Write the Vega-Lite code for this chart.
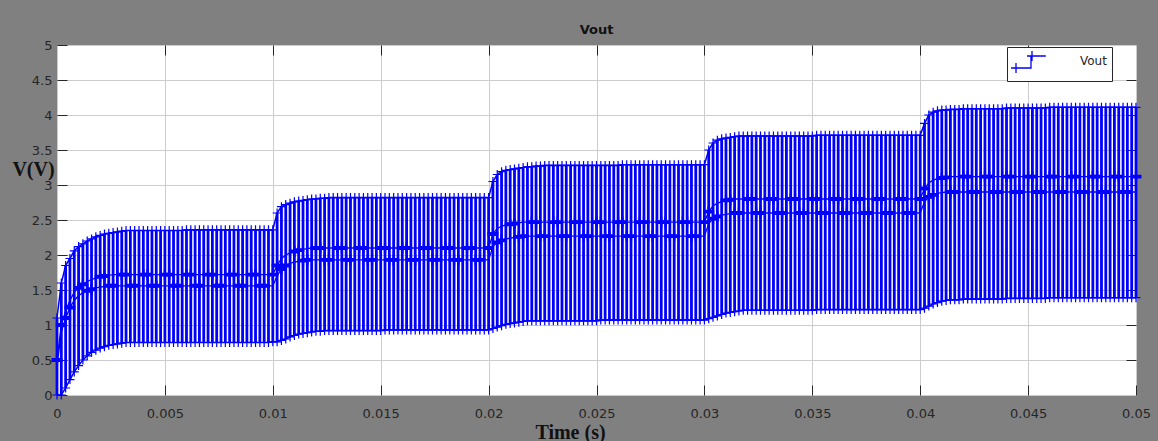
{
  "$schema": "https://vega.github.io/schema/vega-lite/v6.json",
  "width": 1079,
  "height": 350,
  "autosize": {"type": "none"},
  "padding": {"left": 57, "top": 45, "right": 22, "bottom": 46},
  "background": "#808080",
  "title": {"text": "Vout", "font": "DejaVu Sans", "fontSize": 13, "fontWeight": "bold", "color": "#111111", "offset": 2, "anchor": "middle"},
  "data": {"values": [
    {"t":0,"h":1.1,"u":0.5,"d":0.42,"l":0,"k":"u"},
    {"t":0.0002,"h":1.6,"u":1,"d":0.9,"l":0,"k":"u"},
    {"t":0.0004,"h":1.85,"u":1.2,"d":1.1,"l":0.1,"k":"d"},
    {"t":0.0006,"h":1.95,"u":1.35,"d":1.25,"l":0.22,"k":"d"},
    {"t":0.0008,"h":2.06,"u":1.47,"d":1.35,"l":0.33,"k":"n"},
    {"t":0.001,"h":2.12,"u":1.53,"d":1.42,"l":0.42,"k":"u"},
    {"t":0.0012,"h":2.16,"u":1.58,"d":1.46,"l":0.5,"k":"u"},
    {"t":0.0014,"h":2.2,"u":1.62,"d":1.49,"l":0.56,"k":"d"},
    {"t":0.0016,"h":2.23,"u":1.65,"d":1.51,"l":0.61,"k":"d"},
    {"t":0.0018,"h":2.26,"u":1.67,"d":1.53,"l":0.64,"k":"n"},
    {"t":0.002,"h":2.28,"u":1.69,"d":1.54,"l":0.67,"k":"u"},
    {"t":0.0022,"h":2.3,"u":1.7,"d":1.55,"l":0.69,"k":"u"},
    {"t":0.0024,"h":2.31,"u":1.71,"d":1.56,"l":0.71,"k":"d"},
    {"t":0.0026,"h":2.32,"u":1.72,"d":1.56,"l":0.72,"k":"d"},
    {"t":0.0028,"h":2.33,"u":1.72,"d":1.56,"l":0.73,"k":"n"},
    {"t":0.003,"h":2.34,"u":1.72,"d":1.56,"l":0.74,"k":"u"},
    {"t":0.0032,"h":2.35,"u":1.72,"d":1.56,"l":0.75,"k":"u"},
    {"t":0.0034,"h":2.35,"u":1.72,"d":1.56,"l":0.75,"k":"d"},
    {"t":0.0036,"h":2.35,"u":1.72,"d":1.56,"l":0.75,"k":"d"},
    {"t":0.0038,"h":2.35,"u":1.72,"d":1.56,"l":0.75,"k":"n"},
    {"t":0.004,"h":2.35,"u":1.72,"d":1.56,"l":0.75,"k":"u"},
    {"t":0.0042,"h":2.35,"u":1.72,"d":1.56,"l":0.75,"k":"u"},
    {"t":0.0044,"h":2.35,"u":1.72,"d":1.56,"l":0.75,"k":"d"},
    {"t":0.0046,"h":2.35,"u":1.72,"d":1.56,"l":0.75,"k":"d"},
    {"t":0.0048,"h":2.35,"u":1.72,"d":1.56,"l":0.75,"k":"n"},
    {"t":0.005,"h":2.35,"u":1.72,"d":1.56,"l":0.75,"k":"u"},
    {"t":0.0052,"h":2.35,"u":1.72,"d":1.56,"l":0.75,"k":"u"},
    {"t":0.0054,"h":2.35,"u":1.72,"d":1.56,"l":0.75,"k":"d"},
    {"t":0.0056,"h":2.35,"u":1.72,"d":1.56,"l":0.75,"k":"d"},
    {"t":0.0058,"h":2.35,"u":1.72,"d":1.56,"l":0.75,"k":"n"},
    {"t":0.006,"h":2.36,"u":1.72,"d":1.56,"l":0.75,"k":"u"},
    {"t":0.0062,"h":2.36,"u":1.72,"d":1.56,"l":0.75,"k":"u"},
    {"t":0.0064,"h":2.36,"u":1.72,"d":1.56,"l":0.75,"k":"d"},
    {"t":0.0066,"h":2.36,"u":1.72,"d":1.56,"l":0.75,"k":"d"},
    {"t":0.0068,"h":2.36,"u":1.72,"d":1.56,"l":0.75,"k":"n"},
    {"t":0.007,"h":2.36,"u":1.72,"d":1.56,"l":0.75,"k":"u"},
    {"t":0.0072,"h":2.36,"u":1.72,"d":1.56,"l":0.75,"k":"u"},
    {"t":0.0074,"h":2.36,"u":1.72,"d":1.56,"l":0.75,"k":"d"},
    {"t":0.0076,"h":2.36,"u":1.72,"d":1.56,"l":0.75,"k":"d"},
    {"t":0.0078,"h":2.36,"u":1.72,"d":1.56,"l":0.75,"k":"n"},
    {"t":0.008,"h":2.36,"u":1.72,"d":1.56,"l":0.75,"k":"u"},
    {"t":0.0082,"h":2.36,"u":1.72,"d":1.56,"l":0.75,"k":"u"},
    {"t":0.0084,"h":2.36,"u":1.72,"d":1.56,"l":0.75,"k":"d"},
    {"t":0.0086,"h":2.36,"u":1.72,"d":1.56,"l":0.75,"k":"d"},
    {"t":0.0088,"h":2.36,"u":1.72,"d":1.56,"l":0.75,"k":"n"},
    {"t":0.009,"h":2.36,"u":1.72,"d":1.56,"l":0.75,"k":"u"},
    {"t":0.0092,"h":2.36,"u":1.72,"d":1.56,"l":0.75,"k":"u"},
    {"t":0.0094,"h":2.36,"u":1.72,"d":1.56,"l":0.75,"k":"d"},
    {"t":0.0096,"h":2.36,"u":1.72,"d":1.56,"l":0.75,"k":"d"},
    {"t":0.0098,"h":2.36,"u":1.72,"d":1.56,"l":0.75,"k":"n"},
    {"t":0.01,"h":2.36,"u":1.72,"d":1.56,"l":0.76,"k":"u"},
    {"t":0.0102,"h":2.6,"u":1.85,"d":1.7,"l":0.76,"k":"u"},
    {"t":0.0104,"h":2.69,"u":1.95,"d":1.8,"l":0.78,"k":"d"},
    {"t":0.0106,"h":2.72,"u":2,"d":1.85,"l":0.8,"k":"d"},
    {"t":0.0108,"h":2.74,"u":2.03,"d":1.88,"l":0.83,"k":"n"},
    {"t":0.011,"h":2.76,"u":2.05,"d":1.9,"l":0.85,"k":"u"},
    {"t":0.0112,"h":2.77,"u":2.07,"d":1.91,"l":0.87,"k":"u"},
    {"t":0.0114,"h":2.78,"u":2.08,"d":1.92,"l":0.88,"k":"d"},
    {"t":0.0116,"h":2.79,"u":2.09,"d":1.93,"l":0.89,"k":"d"},
    {"t":0.0118,"h":2.8,"u":2.1,"d":1.93,"l":0.9,"k":"n"},
    {"t":0.012,"h":2.8,"u":2.1,"d":1.93,"l":0.91,"k":"u"},
    {"t":0.0122,"h":2.81,"u":2.1,"d":1.93,"l":0.91,"k":"u"},
    {"t":0.0124,"h":2.81,"u":2.1,"d":1.93,"l":0.92,"k":"d"},
    {"t":0.0126,"h":2.82,"u":2.1,"d":1.93,"l":0.92,"k":"d"},
    {"t":0.0128,"h":2.82,"u":2.1,"d":1.93,"l":0.92,"k":"n"},
    {"t":0.013,"h":2.82,"u":2.1,"d":1.93,"l":0.92,"k":"u"},
    {"t":0.0132,"h":2.82,"u":2.1,"d":1.93,"l":0.92,"k":"u"},
    {"t":0.0134,"h":2.82,"u":2.1,"d":1.93,"l":0.92,"k":"d"},
    {"t":0.0136,"h":2.82,"u":2.1,"d":1.93,"l":0.92,"k":"d"},
    {"t":0.0138,"h":2.82,"u":2.1,"d":1.93,"l":0.92,"k":"n"},
    {"t":0.014,"h":2.82,"u":2.1,"d":1.93,"l":0.92,"k":"u"},
    {"t":0.0142,"h":2.82,"u":2.1,"d":1.93,"l":0.92,"k":"u"},
    {"t":0.0144,"h":2.82,"u":2.1,"d":1.93,"l":0.92,"k":"d"},
    {"t":0.0146,"h":2.82,"u":2.1,"d":1.93,"l":0.92,"k":"d"},
    {"t":0.0148,"h":2.82,"u":2.1,"d":1.93,"l":0.92,"k":"n"},
    {"t":0.015,"h":2.82,"u":2.1,"d":1.93,"l":0.92,"k":"u"},
    {"t":0.0152,"h":2.82,"u":2.1,"d":1.93,"l":0.93,"k":"u"},
    {"t":0.0154,"h":2.82,"u":2.1,"d":1.93,"l":0.93,"k":"d"},
    {"t":0.0156,"h":2.82,"u":2.1,"d":1.93,"l":0.93,"k":"d"},
    {"t":0.0158,"h":2.82,"u":2.1,"d":1.93,"l":0.93,"k":"n"},
    {"t":0.016,"h":2.82,"u":2.1,"d":1.93,"l":0.93,"k":"u"},
    {"t":0.0162,"h":2.82,"u":2.1,"d":1.93,"l":0.93,"k":"u"},
    {"t":0.0164,"h":2.82,"u":2.1,"d":1.93,"l":0.93,"k":"d"},
    {"t":0.0166,"h":2.82,"u":2.1,"d":1.93,"l":0.93,"k":"d"},
    {"t":0.0168,"h":2.82,"u":2.1,"d":1.93,"l":0.93,"k":"n"},
    {"t":0.017,"h":2.82,"u":2.1,"d":1.93,"l":0.93,"k":"u"},
    {"t":0.0172,"h":2.82,"u":2.1,"d":1.93,"l":0.93,"k":"u"},
    {"t":0.0174,"h":2.82,"u":2.1,"d":1.93,"l":0.93,"k":"d"},
    {"t":0.0176,"h":2.82,"u":2.1,"d":1.93,"l":0.93,"k":"d"},
    {"t":0.0178,"h":2.82,"u":2.1,"d":1.93,"l":0.93,"k":"n"},
    {"t":0.018,"h":2.82,"u":2.1,"d":1.93,"l":0.93,"k":"u"},
    {"t":0.0182,"h":2.82,"u":2.1,"d":1.93,"l":0.93,"k":"u"},
    {"t":0.0184,"h":2.82,"u":2.1,"d":1.93,"l":0.93,"k":"d"},
    {"t":0.0186,"h":2.82,"u":2.1,"d":1.93,"l":0.93,"k":"d"},
    {"t":0.0188,"h":2.82,"u":2.1,"d":1.93,"l":0.93,"k":"n"},
    {"t":0.019,"h":2.82,"u":2.1,"d":1.93,"l":0.93,"k":"u"},
    {"t":0.0192,"h":2.82,"u":2.1,"d":1.93,"l":0.93,"k":"u"},
    {"t":0.0194,"h":2.82,"u":2.1,"d":1.93,"l":0.93,"k":"d"},
    {"t":0.0196,"h":2.82,"u":2.1,"d":1.93,"l":0.93,"k":"d"},
    {"t":0.0198,"h":2.82,"u":2.1,"d":1.93,"l":0.93,"k":"n"},
    {"t":0.02,"h":2.82,"u":2.1,"d":1.93,"l":0.93,"k":"u"},
    {"t":0.0202,"h":3.05,"u":2.3,"d":2.12,"l":0.95,"k":"u"},
    {"t":0.0204,"h":3.15,"u":2.38,"d":2.18,"l":0.97,"k":"d"},
    {"t":0.0206,"h":3.19,"u":2.41,"d":2.21,"l":0.99,"k":"d"},
    {"t":0.0208,"h":3.21,"u":2.43,"d":2.23,"l":1.01,"k":"n"},
    {"t":0.021,"h":3.22,"u":2.44,"d":2.24,"l":1.02,"k":"u"},
    {"t":0.0212,"h":3.23,"u":2.45,"d":2.25,"l":1.03,"k":"u"},
    {"t":0.0214,"h":3.24,"u":2.46,"d":2.26,"l":1.04,"k":"d"},
    {"t":0.0216,"h":3.25,"u":2.47,"d":2.27,"l":1.05,"k":"d"},
    {"t":0.0218,"h":3.26,"u":2.47,"d":2.27,"l":1.06,"k":"n"},
    {"t":0.022,"h":3.26,"u":2.47,"d":2.27,"l":1.06,"k":"u"},
    {"t":0.0222,"h":3.27,"u":2.47,"d":2.27,"l":1.06,"k":"u"},
    {"t":0.0224,"h":3.27,"u":2.47,"d":2.27,"l":1.06,"k":"d"},
    {"t":0.0226,"h":3.28,"u":2.47,"d":2.27,"l":1.06,"k":"d"},
    {"t":0.0228,"h":3.28,"u":2.47,"d":2.27,"l":1.06,"k":"n"},
    {"t":0.023,"h":3.28,"u":2.47,"d":2.27,"l":1.06,"k":"u"},
    {"t":0.0232,"h":3.28,"u":2.47,"d":2.27,"l":1.06,"k":"u"},
    {"t":0.0234,"h":3.28,"u":2.47,"d":2.27,"l":1.06,"k":"d"},
    {"t":0.0236,"h":3.28,"u":2.47,"d":2.27,"l":1.06,"k":"d"},
    {"t":0.0238,"h":3.28,"u":2.47,"d":2.27,"l":1.06,"k":"n"},
    {"t":0.024,"h":3.28,"u":2.47,"d":2.27,"l":1.06,"k":"u"},
    {"t":0.0242,"h":3.28,"u":2.47,"d":2.27,"l":1.06,"k":"u"},
    {"t":0.0244,"h":3.28,"u":2.47,"d":2.27,"l":1.06,"k":"d"},
    {"t":0.0246,"h":3.28,"u":2.47,"d":2.27,"l":1.06,"k":"d"},
    {"t":0.0248,"h":3.28,"u":2.47,"d":2.27,"l":1.06,"k":"n"},
    {"t":0.025,"h":3.28,"u":2.47,"d":2.27,"l":1.06,"k":"u"},
    {"t":0.0252,"h":3.28,"u":2.47,"d":2.27,"l":1.07,"k":"u"},
    {"t":0.0254,"h":3.28,"u":2.47,"d":2.27,"l":1.07,"k":"d"},
    {"t":0.0256,"h":3.28,"u":2.47,"d":2.27,"l":1.07,"k":"d"},
    {"t":0.0258,"h":3.28,"u":2.47,"d":2.27,"l":1.07,"k":"n"},
    {"t":0.026,"h":3.28,"u":2.47,"d":2.27,"l":1.07,"k":"u"},
    {"t":0.0262,"h":3.29,"u":2.47,"d":2.27,"l":1.07,"k":"u"},
    {"t":0.0264,"h":3.29,"u":2.47,"d":2.27,"l":1.07,"k":"d"},
    {"t":0.0266,"h":3.29,"u":2.47,"d":2.27,"l":1.07,"k":"d"},
    {"t":0.0268,"h":3.29,"u":2.47,"d":2.27,"l":1.07,"k":"n"},
    {"t":0.027,"h":3.29,"u":2.47,"d":2.27,"l":1.07,"k":"u"},
    {"t":0.0272,"h":3.29,"u":2.47,"d":2.27,"l":1.07,"k":"u"},
    {"t":0.0274,"h":3.29,"u":2.47,"d":2.27,"l":1.07,"k":"d"},
    {"t":0.0276,"h":3.29,"u":2.47,"d":2.27,"l":1.07,"k":"d"},
    {"t":0.0278,"h":3.29,"u":2.47,"d":2.27,"l":1.07,"k":"n"},
    {"t":0.028,"h":3.29,"u":2.47,"d":2.27,"l":1.07,"k":"u"},
    {"t":0.0282,"h":3.29,"u":2.47,"d":2.27,"l":1.07,"k":"u"},
    {"t":0.0284,"h":3.29,"u":2.47,"d":2.27,"l":1.07,"k":"d"},
    {"t":0.0286,"h":3.29,"u":2.47,"d":2.27,"l":1.07,"k":"d"},
    {"t":0.0288,"h":3.29,"u":2.47,"d":2.27,"l":1.07,"k":"n"},
    {"t":0.029,"h":3.29,"u":2.47,"d":2.27,"l":1.07,"k":"u"},
    {"t":0.0292,"h":3.29,"u":2.47,"d":2.27,"l":1.07,"k":"u"},
    {"t":0.0294,"h":3.29,"u":2.47,"d":2.27,"l":1.07,"k":"d"},
    {"t":0.0296,"h":3.29,"u":2.47,"d":2.27,"l":1.07,"k":"d"},
    {"t":0.0298,"h":3.29,"u":2.47,"d":2.27,"l":1.07,"k":"n"},
    {"t":0.03,"h":3.29,"u":2.47,"d":2.27,"l":1.07,"k":"u"},
    {"t":0.0302,"h":3.5,"u":2.62,"d":2.45,"l":1.09,"k":"u"},
    {"t":0.0304,"h":3.6,"u":2.7,"d":2.52,"l":1.11,"k":"d"},
    {"t":0.0306,"h":3.64,"u":2.74,"d":2.55,"l":1.13,"k":"d"},
    {"t":0.0308,"h":3.66,"u":2.76,"d":2.57,"l":1.15,"k":"n"},
    {"t":0.031,"h":3.67,"u":2.78,"d":2.58,"l":1.17,"k":"u"},
    {"t":0.0312,"h":3.68,"u":2.79,"d":2.59,"l":1.18,"k":"u"},
    {"t":0.0314,"h":3.69,"u":2.8,"d":2.6,"l":1.19,"k":"d"},
    {"t":0.0316,"h":3.7,"u":2.8,"d":2.6,"l":1.2,"k":"d"},
    {"t":0.0318,"h":3.7,"u":2.8,"d":2.6,"l":1.21,"k":"n"},
    {"t":0.032,"h":3.7,"u":2.8,"d":2.6,"l":1.21,"k":"u"},
    {"t":0.0322,"h":3.7,"u":2.8,"d":2.6,"l":1.21,"k":"u"},
    {"t":0.0324,"h":3.7,"u":2.8,"d":2.6,"l":1.21,"k":"d"},
    {"t":0.0326,"h":3.7,"u":2.8,"d":2.6,"l":1.21,"k":"d"},
    {"t":0.0328,"h":3.7,"u":2.8,"d":2.6,"l":1.21,"k":"n"},
    {"t":0.033,"h":3.7,"u":2.8,"d":2.6,"l":1.21,"k":"u"},
    {"t":0.0332,"h":3.7,"u":2.8,"d":2.6,"l":1.21,"k":"u"},
    {"t":0.0334,"h":3.7,"u":2.8,"d":2.6,"l":1.21,"k":"d"},
    {"t":0.0336,"h":3.7,"u":2.8,"d":2.6,"l":1.21,"k":"d"},
    {"t":0.0338,"h":3.7,"u":2.8,"d":2.6,"l":1.21,"k":"n"},
    {"t":0.034,"h":3.7,"u":2.8,"d":2.6,"l":1.21,"k":"u"},
    {"t":0.0342,"h":3.7,"u":2.8,"d":2.6,"l":1.21,"k":"u"},
    {"t":0.0344,"h":3.7,"u":2.8,"d":2.6,"l":1.21,"k":"d"},
    {"t":0.0346,"h":3.7,"u":2.8,"d":2.6,"l":1.21,"k":"d"},
    {"t":0.0348,"h":3.7,"u":2.8,"d":2.6,"l":1.21,"k":"n"},
    {"t":0.035,"h":3.7,"u":2.8,"d":2.6,"l":1.21,"k":"u"},
    {"t":0.0352,"h":3.71,"u":2.8,"d":2.6,"l":1.22,"k":"u"},
    {"t":0.0354,"h":3.71,"u":2.8,"d":2.6,"l":1.22,"k":"d"},
    {"t":0.0356,"h":3.71,"u":2.8,"d":2.6,"l":1.22,"k":"d"},
    {"t":0.0358,"h":3.71,"u":2.8,"d":2.6,"l":1.22,"k":"n"},
    {"t":0.036,"h":3.71,"u":2.8,"d":2.6,"l":1.22,"k":"u"},
    {"t":0.0362,"h":3.71,"u":2.8,"d":2.6,"l":1.22,"k":"u"},
    {"t":0.0364,"h":3.71,"u":2.8,"d":2.6,"l":1.22,"k":"d"},
    {"t":0.0366,"h":3.71,"u":2.8,"d":2.6,"l":1.22,"k":"d"},
    {"t":0.0368,"h":3.71,"u":2.8,"d":2.6,"l":1.22,"k":"n"},
    {"t":0.037,"h":3.71,"u":2.8,"d":2.6,"l":1.22,"k":"u"},
    {"t":0.0372,"h":3.71,"u":2.8,"d":2.6,"l":1.22,"k":"u"},
    {"t":0.0374,"h":3.71,"u":2.8,"d":2.6,"l":1.22,"k":"d"},
    {"t":0.0376,"h":3.71,"u":2.8,"d":2.6,"l":1.22,"k":"d"},
    {"t":0.0378,"h":3.71,"u":2.8,"d":2.6,"l":1.22,"k":"n"},
    {"t":0.038,"h":3.71,"u":2.8,"d":2.6,"l":1.22,"k":"u"},
    {"t":0.0382,"h":3.71,"u":2.8,"d":2.6,"l":1.22,"k":"u"},
    {"t":0.0384,"h":3.71,"u":2.8,"d":2.6,"l":1.22,"k":"d"},
    {"t":0.0386,"h":3.71,"u":2.8,"d":2.6,"l":1.22,"k":"d"},
    {"t":0.0388,"h":3.71,"u":2.8,"d":2.6,"l":1.22,"k":"n"},
    {"t":0.039,"h":3.71,"u":2.8,"d":2.6,"l":1.22,"k":"u"},
    {"t":0.0392,"h":3.71,"u":2.8,"d":2.6,"l":1.22,"k":"u"},
    {"t":0.0394,"h":3.71,"u":2.8,"d":2.6,"l":1.22,"k":"d"},
    {"t":0.0396,"h":3.71,"u":2.8,"d":2.6,"l":1.22,"k":"d"},
    {"t":0.0398,"h":3.71,"u":2.8,"d":2.6,"l":1.22,"k":"n"},
    {"t":0.04,"h":3.71,"u":2.8,"d":2.6,"l":1.22,"k":"u"},
    {"t":0.0402,"h":3.88,"u":2.95,"d":2.76,"l":1.24,"k":"u"},
    {"t":0.0404,"h":4,"u":3.03,"d":2.83,"l":1.27,"k":"d"},
    {"t":0.0406,"h":4.04,"u":3.07,"d":2.86,"l":1.3,"k":"d"},
    {"t":0.0408,"h":4.06,"u":3.09,"d":2.88,"l":1.32,"k":"n"},
    {"t":0.041,"h":4.07,"u":3.1,"d":2.89,"l":1.34,"k":"u"},
    {"t":0.0412,"h":4.07,"u":3.11,"d":2.9,"l":1.35,"k":"u"},
    {"t":0.0414,"h":4.08,"u":3.12,"d":2.9,"l":1.36,"k":"d"},
    {"t":0.0416,"h":4.08,"u":3.12,"d":2.9,"l":1.36,"k":"d"},
    {"t":0.0418,"h":4.08,"u":3.12,"d":2.9,"l":1.36,"k":"n"},
    {"t":0.042,"h":4.09,"u":3.12,"d":2.9,"l":1.37,"k":"u"},
    {"t":0.0422,"h":4.09,"u":3.12,"d":2.9,"l":1.37,"k":"u"},
    {"t":0.0424,"h":4.09,"u":3.12,"d":2.9,"l":1.37,"k":"d"},
    {"t":0.0426,"h":4.09,"u":3.12,"d":2.9,"l":1.37,"k":"d"},
    {"t":0.0428,"h":4.09,"u":3.12,"d":2.9,"l":1.37,"k":"n"},
    {"t":0.043,"h":4.09,"u":3.12,"d":2.9,"l":1.37,"k":"u"},
    {"t":0.0432,"h":4.09,"u":3.12,"d":2.9,"l":1.37,"k":"u"},
    {"t":0.0434,"h":4.09,"u":3.12,"d":2.9,"l":1.37,"k":"d"},
    {"t":0.0436,"h":4.09,"u":3.12,"d":2.9,"l":1.37,"k":"d"},
    {"t":0.0438,"h":4.09,"u":3.12,"d":2.9,"l":1.37,"k":"n"},
    {"t":0.044,"h":4.1,"u":3.12,"d":2.9,"l":1.38,"k":"u"},
    {"t":0.0442,"h":4.1,"u":3.12,"d":2.9,"l":1.38,"k":"u"},
    {"t":0.0444,"h":4.1,"u":3.12,"d":2.9,"l":1.38,"k":"d"},
    {"t":0.0446,"h":4.1,"u":3.12,"d":2.9,"l":1.38,"k":"d"},
    {"t":0.0448,"h":4.1,"u":3.12,"d":2.9,"l":1.38,"k":"n"},
    {"t":0.045,"h":4.1,"u":3.12,"d":2.9,"l":1.38,"k":"u"},
    {"t":0.0452,"h":4.1,"u":3.12,"d":2.9,"l":1.38,"k":"u"},
    {"t":0.0454,"h":4.1,"u":3.12,"d":2.9,"l":1.38,"k":"d"},
    {"t":0.0456,"h":4.1,"u":3.12,"d":2.9,"l":1.38,"k":"d"},
    {"t":0.0458,"h":4.1,"u":3.12,"d":2.9,"l":1.38,"k":"n"},
    {"t":0.046,"h":4.11,"u":3.12,"d":2.9,"l":1.39,"k":"u"},
    {"t":0.0462,"h":4.11,"u":3.12,"d":2.9,"l":1.39,"k":"u"},
    {"t":0.0464,"h":4.11,"u":3.12,"d":2.9,"l":1.39,"k":"d"},
    {"t":0.0466,"h":4.11,"u":3.12,"d":2.9,"l":1.39,"k":"d"},
    {"t":0.0468,"h":4.11,"u":3.12,"d":2.9,"l":1.39,"k":"n"},
    {"t":0.047,"h":4.11,"u":3.12,"d":2.9,"l":1.39,"k":"u"},
    {"t":0.0472,"h":4.11,"u":3.12,"d":2.9,"l":1.39,"k":"u"},
    {"t":0.0474,"h":4.11,"u":3.12,"d":2.9,"l":1.39,"k":"d"},
    {"t":0.0476,"h":4.11,"u":3.12,"d":2.9,"l":1.39,"k":"d"},
    {"t":0.0478,"h":4.11,"u":3.12,"d":2.9,"l":1.39,"k":"n"},
    {"t":0.048,"h":4.11,"u":3.12,"d":2.9,"l":1.39,"k":"u"},
    {"t":0.0482,"h":4.11,"u":3.12,"d":2.9,"l":1.39,"k":"u"},
    {"t":0.0484,"h":4.11,"u":3.12,"d":2.9,"l":1.39,"k":"d"},
    {"t":0.0486,"h":4.11,"u":3.12,"d":2.9,"l":1.39,"k":"d"},
    {"t":0.0488,"h":4.11,"u":3.12,"d":2.9,"l":1.39,"k":"n"},
    {"t":0.049,"h":4.11,"u":3.12,"d":2.9,"l":1.39,"k":"u"},
    {"t":0.0492,"h":4.11,"u":3.12,"d":2.9,"l":1.39,"k":"u"},
    {"t":0.0494,"h":4.11,"u":3.12,"d":2.9,"l":1.39,"k":"d"},
    {"t":0.0496,"h":4.11,"u":3.12,"d":2.9,"l":1.39,"k":"d"},
    {"t":0.0498,"h":4.11,"u":3.12,"d":2.9,"l":1.39,"k":"n"},
    {"t":0.05,"h":4.11,"u":3.12,"d":2.9,"l":1.39,"k":"u"}
  ]},
  "layer": [
    {
      "mark": {"type": "rule", "strokeWidth": 2.8},
      "encoding": {
        "x": {"field": "t", "type": "quantitative",
          "scale": {"domain": [0, 0.05], "nice": false, "zero": false},
          "axis": {"orient": "bottom", "values": [0, 0.005, 0.01, 0.015, 0.02, 0.025, 0.03, 0.035, 0.04, 0.045, 0.05],
            "format": "~g", "grid": true, "gridColor": "#cccccc", "gridWidth": 1, "domain": false,
            "tickSize": -10, "tickColor": "#262626", "tickWidth": 1,
            "labelPadding": 22, "labelFlush": false, "labelOverlap": false, "labelBound": false,
            "labelFont": "DejaVu Sans", "labelFontSize": 13, "labelColor": "#262626",
            "title": "Time (s)", "titleFont": "Liberation Serif", "titleFontSize": 20, "titleFontWeight": "bold",
            "titleColor": "#111111", "titleX": 513, "titleY": 37, "titleAlign": "center", "titleBaseline": "middle"}},
        "y": {"field": "l", "type": "quantitative",
          "scale": {"domain": [0, 5], "nice": false, "zero": false},
          "axis": {"orient": "left", "values": [0, 0.5, 1, 1.5, 2, 2.5, 3, 3.5, 4, 4.5, 5],
            "format": "~g", "grid": true, "gridColor": "#cccccc", "gridWidth": 1, "domain": false,
            "tickSize": -10, "tickColor": "#262626", "tickWidth": 1,
            "labelPadding": 15, "labelOverlap": false, "labelBound": false,
            "labelFont": "DejaVu Sans", "labelFontSize": 13, "labelColor": "#262626",
            "title": "V(V)", "titleFont": "Liberation Serif", "titleFontSize": 20, "titleFontWeight": "bold",
            "titleColor": "#111111", "titleAngle": 0, "titleX": -24, "titleY": 124, "titleAlign": "center", "titleBaseline": "middle"}},
        "y2": {"field": "h"},
        "color": {"datum": "Vout", "scale": {"range": ["#0000ff"]},
          "legend": {"orient": "none", "legendX": 950, "legendY": 2, "title": null,
            "symbolType": "M-1.25,0.875H1.25V-0.625H3.1M-1.25,0.875H0M-0.625,0.25V1.5M0.75,-0.625H2M1.375,-1.25V0",
            "symbolSize": 256, "symbolStrokeColor": "#0000ff", "symbolFillColor": "transparent", "symbolStrokeWidth": 1.3,
            "fillColor": "white", "strokeColor": "#262626", "padding": 5, "labelOffset": 50,
            "labelFont": "DejaVu Sans", "labelFontSize": 12, "labelColor": "#262626"}}
      }
    },
    {
      "mark": {"type": "line", "color": "#0000ff", "strokeWidth": 1.5},
      "encoding": {
        "x": {"field": "t", "type": "quantitative",
          "axis": {"orient": "top", "values": [0.005, 0.01, 0.015, 0.02, 0.025, 0.03, 0.035, 0.04, 0.045],
            "labels": false, "grid": false, "domain": false, "tickSize": -10, "tickColor": "#262626", "title": null}},
        "y": {"field": "h", "type": "quantitative",
          "axis": {"orient": "right", "values": [0.5, 1, 1.5, 2, 2.5, 3, 3.5, 4, 4.5],
            "labels": false, "grid": false, "domain": false, "tickSize": -10, "tickColor": "#262626", "title": null}}
      }
    },
    {
      "mark": {"type": "line", "color": "#0000ff", "strokeWidth": 1.5},
      "encoding": {
        "x": {"field": "t", "type": "quantitative", "axis": null},
        "y": {"field": "l", "type": "quantitative", "axis": null}
      }
    },
    {
      "mark": {"type": "line", "color": "#0000ff", "strokeWidth": 1.3},
      "encoding": {
        "x": {"field": "t", "type": "quantitative", "axis": null},
        "y": {"field": "u", "type": "quantitative", "axis": null}
      }
    },
    {
      "mark": {"type": "line", "color": "#0000ff", "strokeWidth": 1.3},
      "encoding": {
        "x": {"field": "t", "type": "quantitative", "axis": null},
        "y": {"field": "d", "type": "quantitative", "axis": null}
      }
    },
    {
      "mark": {"type": "point", "shape": "M-1,0H1M0,-1V1", "size": 81, "filled": false, "color": "#0000ff", "strokeWidth": 1.2, "opacity": 1},
      "encoding": {
        "x": {"field": "t", "type": "quantitative", "axis": null},
        "y": {"field": "h", "type": "quantitative", "axis": null}
      }
    },
    {
      "mark": {"type": "point", "shape": "M-1,0H1M0,-1V1", "size": 81, "filled": false, "color": "#0000ff", "strokeWidth": 1.2, "opacity": 1},
      "encoding": {
        "x": {"field": "t", "type": "quantitative", "axis": null},
        "y": {"field": "l", "type": "quantitative", "axis": null}
      }
    },
    {
      "transform": [{"filter": {"field": "k", "equal": "u"}}],
      "mark": {"type": "point", "shape": "M-1,-0.35H1V0.35H-1ZM-0.2,-1H0.2V1H-0.2Z", "size": 121, "filled": true, "color": "#0000ff", "strokeWidth": 0, "opacity": 1},
      "encoding": {
        "x": {"field": "t", "type": "quantitative", "axis": null},
        "y": {"field": "u", "type": "quantitative", "axis": null}
      }
    },
    {
      "transform": [{"filter": {"field": "k", "equal": "d"}}],
      "mark": {"type": "point", "shape": "M-1,-0.35H1V0.35H-1ZM-0.2,-1H0.2V1H-0.2Z", "size": 121, "filled": true, "color": "#0000ff", "strokeWidth": 0, "opacity": 1},
      "encoding": {
        "x": {"field": "t", "type": "quantitative", "axis": null},
        "y": {"field": "d", "type": "quantitative", "axis": null}
      }
    }
  ],
  "resolve": {"axis": {"x": "independent", "y": "independent"}},
  "config": {
    "font": "DejaVu Sans",
    "view": {"stroke": "#262626", "strokeWidth": 1, "fill": "white"}
  }
}
